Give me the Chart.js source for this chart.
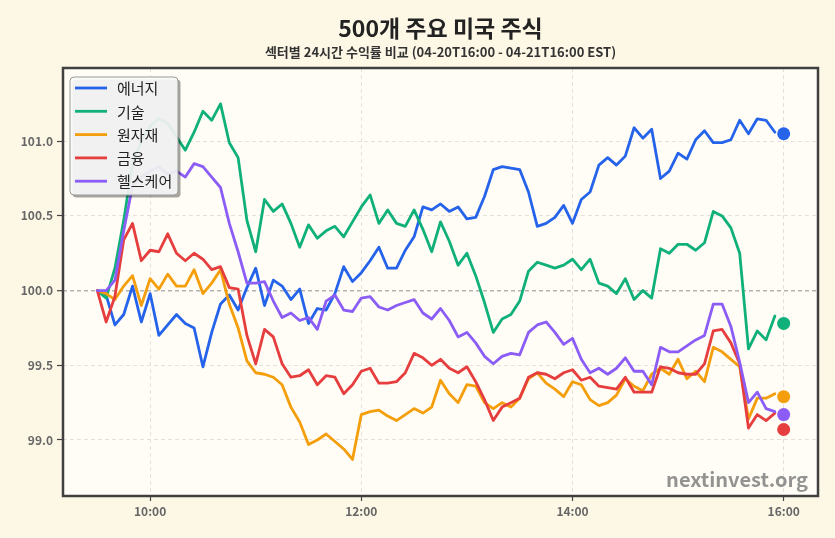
<!DOCTYPE html>
<html>
<head>
<meta charset="utf-8">
<script src="https://cdn.jsdelivr.net/npm/chart.js@4.4.1/dist/chart.umd.min.js"></script>
<style>
html,body{margin:0;padding:0;background:#fdf8e6;}
#wrap{width:835px;height:538px;position:relative;}
canvas{display:block;}
</style>
</head>
<body>
<div id="wrap"><canvas id="c" width="835" height="538"></canvas></div>
<script>
// ---------- data ----------
const chartTitle = "500개 주요 미국 주식";
const chartSubtitle = "섹터별 24시간 수익률 비교 (04-20T16:00 - 04-21T16:00 EST)";
const watermarkText = "nextinvest.org";

const times = [
  "09:30","09:35","09:40","09:45","09:50","09:55",
  "10:00","10:05","10:10","10:15","10:20","10:25","10:30","10:35","10:40","10:45","10:50","10:55",
  "11:00","11:05","11:10","11:15","11:20","11:25","11:30","11:35","11:40","11:45","11:50","11:55",
  "12:00","12:05","12:10","12:15","12:20","12:25","12:30","12:35","12:40","12:45","12:50","12:55",
  "13:00","13:05","13:10","13:15","13:20","13:25","13:30","13:35","13:40","13:45","13:50","13:55",
  "14:00","14:05","14:10","14:15","14:20","14:25","14:30","14:35","14:40","14:45","14:50","14:55",
  "15:00","15:05","15:10","15:15","15:20","15:25","15:30","15:35","15:40","15:45","15:50","15:55"
];
const finalTime = "16:00";

const seriesNames = ["에너지", "기술", "원자재", "금융", "헬스케어"];

const energy = [
  100.00, 99.97, 99.77, 99.84,100.03, 99.79,
   99.98, 99.70, 99.77, 99.84, 99.78, 99.75, 99.49, 99.72, 99.91, 99.97, 99.87,100.02,
  100.15, 99.90,100.07,100.03, 99.94,100.01, 99.78, 99.88, 99.87, 99.98,100.16,100.06,
  100.12,100.20,100.29,100.15,100.15,100.27,100.36,100.56,100.54,100.58,100.53,100.56,
  100.48,100.49,100.63,100.81,100.83,100.82,100.81,100.66,100.43,100.45,100.49,100.57,
  100.45,100.61,100.66,100.84,100.89,100.84,100.90,101.09,101.02,101.08,100.75,100.80,
  100.92,100.88,101.01,101.07,100.99,100.99,101.01,101.14,101.05,101.15,101.14,101.06
];
const tech = [
  100.00, 99.95,100.15,100.47,100.85,101.00,
  101.10,101.15,101.12,101.03,100.94,101.06,101.20,101.14,101.25,100.99,100.89,100.47,
  100.26,100.61,100.53,100.58,100.45,100.29,100.44,100.35,100.40,100.43,100.36,100.46,
  100.56,100.64,100.45,100.54,100.45,100.43,100.54,100.41,100.26,100.46,100.33,100.17,
  100.25,100.10, 99.92, 99.72, 99.81, 99.84, 99.93,100.13,100.19,100.17,100.15,100.17,
  100.21,100.14,100.21,100.05,100.03, 99.98,100.08, 99.94,100.00, 99.95,100.28,100.25,
  100.31,100.31,100.27,100.32,100.53,100.50,100.42,100.25, 99.61, 99.73, 99.67, 99.83
];
const materials = [
  100.00, 99.98, 99.94,100.03,100.10, 99.90,
  100.08,100.01,100.11,100.03,100.03,100.14, 99.98,100.05,100.14, 99.91, 99.75, 99.53,
   99.45, 99.44, 99.42, 99.37, 99.22, 99.12, 98.97, 99.00, 99.04, 98.99, 98.94, 98.87,
   99.17, 99.19, 99.20, 99.16, 99.13, 99.17, 99.21, 99.18, 99.22, 99.40, 99.31, 99.25,
   99.37, 99.36, 99.25, 99.21, 99.25, 99.22, 99.28, 99.41, 99.45, 99.38, 99.34, 99.29,
   99.39, 99.37, 99.27, 99.23, 99.25, 99.30, 99.41, 99.36, 99.33, 99.44, 99.48, 99.44,
   99.54, 99.41, 99.46, 99.39, 99.62, 99.59, 99.54, 99.49, 99.14, 99.28, 99.28, 99.31
];
const finance = [
  100.00, 99.79, 99.96,100.34,100.45,100.20,
  100.27,100.26,100.38,100.25,100.20,100.25,100.21,100.14,100.16,100.02,100.01, 99.70,
   99.51, 99.74, 99.69, 99.51, 99.42, 99.43, 99.47, 99.37, 99.43, 99.42, 99.31, 99.37,
   99.46, 99.48, 99.38, 99.38, 99.39, 99.45, 99.58, 99.55, 99.50, 99.54, 99.48, 99.45,
   99.49, 99.39, 99.27, 99.13, 99.22, 99.25, 99.28, 99.42, 99.45, 99.44, 99.41, 99.45,
   99.47, 99.40, 99.42, 99.36, 99.35, 99.34, 99.42, 99.32, 99.32, 99.32, 99.49, 99.48,
   99.45, 99.44, 99.44, 99.51, 99.73, 99.74, 99.65, 99.51, 99.08, 99.17, 99.13, 99.18
];
const health = [
  100.00,100.00,100.07,100.40,100.70,100.76,
  100.80,100.83,100.78,100.80,100.76,100.85,100.83,100.76,100.69,100.45,100.26,100.05,
  100.05,100.06, 99.93, 99.82, 99.85, 99.80, 99.82, 99.74, 99.93, 99.97, 99.87, 99.86,
   99.95, 99.96, 99.89, 99.87, 99.90, 99.92, 99.94, 99.85, 99.81, 99.88, 99.80, 99.69,
   99.72, 99.65, 99.56, 99.51, 99.56, 99.58, 99.57, 99.72, 99.77, 99.79, 99.72, 99.64,
   99.68, 99.54, 99.45, 99.48, 99.44, 99.48, 99.55, 99.46, 99.46, 99.37, 99.62, 99.59,
   99.59, 99.63, 99.67, 99.70, 99.91, 99.91, 99.76, 99.52, 99.25, 99.32, 99.21, 99.19
];
// closing value at 16:00 (end markers)
const finalValues = [101.05, 99.78, 99.29, 99.07, 99.17];

const yTickValues = [99.0, 99.5, 100.0, 100.5, 101.0];
const xTickLabels = ["10:00", "12:00", "14:00", "16:00"];

// ---------- styling ----------
const colors = ["#2563eb", "#10b07a", "#f59e0b", "#e63e3e", "#8b5cf6"];
const FONT = "'Noto Sans CJK KR', 'Noto Sans', sans-serif";
const allSeries = [energy, tech, materials, finance, health];

function toHours(t) { const p = t.split(":").map(Number); return p[0] + p[1] / 60; }

const datasets = allSeries.map((vals, k) => ({
  type: "line",
  label: seriesNames[k],
  data: times.map((t, i) => ({ x: toHours(t), y: vals[i] })),
  borderColor: colors[k],
  backgroundColor: colors[k],
  borderWidth: 2.8,
  pointRadius: 0,
  tension: 0,
  borderJoinStyle: "round",
  borderCapStyle: "round",
  order: 5 - k
}));
datasets.push({
  type: "scatter",
  label: "end",
  data: finalValues.map(v => ({ x: toHours(finalTime), y: v })),
  backgroundColor: colors,
  borderWidth: 0,
  pointRadius: 6.5,
  order: 0
});

const decor = {
  id: "decor",
  beforeDraw(chart) {
    const c = chart.ctx, a = chart.chartArea;
    c.save();
    c.fillStyle = "#fdf8e6";
    c.fillRect(0, 0, chart.width, chart.height);
    c.fillStyle = "#fffdf5";
    c.fillRect(a.left, a.top, a.right - a.left, a.bottom - a.top);
    c.restore();
  },
  afterDraw(chart) {
    const c = chart.ctx, a = chart.chartArea;
    c.save();
    // title
    const cx = (a.left + a.right) / 2;
    c.textAlign = "center";
    c.textBaseline = "middle";
    c.fillStyle = "#222";
    c.font = "bold 23px " + FONT;
    c.fillText(chartTitle, cx, 28);
    c.fillStyle = "#333";
    c.font = "bold 13px " + FONT;
    c.fillText(chartSubtitle, cx, 52);

    // watermark
    c.textAlign = "right";
    c.textBaseline = "alphabetic";
    c.fillStyle = "rgba(120,120,120,0.8)";
    c.font = "bold 20px " + FONT;
    c.fillText(watermarkText, a.right - 10, a.bottom - 9);

    // legend
    const lx = a.left + 7, ly = a.top + 9, lw = 108, lh = 118, r = 4;
    function rr(x, y, w, h) {
      c.beginPath();
      c.moveTo(x + r, y); c.lineTo(x + w - r, y); c.quadraticCurveTo(x + w, y, x + w, y + r);
      c.lineTo(x + w, y + h - r); c.quadraticCurveTo(x + w, y + h, x + w - r, y + h);
      c.lineTo(x + r, y + h); c.quadraticCurveTo(x, y + h, x, y + h - r);
      c.lineTo(x, y + r); c.quadraticCurveTo(x, y, x + r, y); c.closePath();
    }
    rr(lx + 2.5, ly + 2.5, lw, lh);
    c.fillStyle = "rgba(0,0,0,0.35)";
    c.fill();
    rr(lx, ly, lw, lh);
    c.fillStyle = "rgba(250,250,250,0.9)";
    c.fill();
    c.strokeStyle = "#9a9a9a";
    c.lineWidth = 1;
    c.stroke();
    c.textAlign = "left";
    c.textBaseline = "middle";
    c.font = "15px " + FONT;
    seriesNames.forEach((name, k) => {
      const yy = ly + 11 + k * 23.3;
      c.strokeStyle = colors[k];
      c.lineWidth = 2.8;
      c.lineCap = "butt";
      c.beginPath(); c.moveTo(lx + 5, yy); c.lineTo(lx + 37, yy); c.stroke();
      c.fillStyle = "#222";
      c.fillText(name, lx + 47, yy + 0.5);
    });

    // frame
    c.strokeStyle = "#404040";
    c.lineWidth = 2.5;
    c.strokeRect(a.left, a.top, a.right - a.left, a.bottom - a.top);
    c.restore();
  }
};

new Chart(document.getElementById("c"), {
  data: { datasets },
  options: {
    responsive: false,
    animation: false,
    devicePixelRatio: 1,
    layout: { padding: { top: 68, right: 17, bottom: 0, left: 0 } },
    plugins: { legend: { display: false }, tooltip: { enabled: false }, title: { display: false } },
    scales: {
      x: {
        type: "linear",
        min: 9.175,
        max: 16.325,
        afterBuildTicks: s => { s.ticks = xTickLabels.map(t => ({ value: toHours(t) })); },
        afterFit: s => { s.height = 42; },
        ticks: {
          callback: v => { const h = Math.floor(v), m = Math.round((v - h) * 60); return h + ":" + String(m).padStart(2, "0"); },
          color: "#666",
          font: { family: FONT, size: 12, weight: "bold" },
          padding: 3,
          maxRotation: 0
        },
        grid: { color: "#e3e1da", lineWidth: 1, drawTicks: true, tickLength: 5, tickColor: "#444", tickWidth: 1.2, tickBorderDash: [] },
        border: { display: false, dash: [4, 3] }
      },
      y: {
        type: "linear",
        min: 98.625,
        max: 101.49,
        afterBuildTicks: s => { s.ticks = yTickValues.map(v => ({ value: v })); },
        afterFit: s => { s.width = 63; },
        ticks: {
          callback: v => Number(v).toFixed(1),
          color: "#666",
          font: { family: FONT, size: 12, weight: "bold" },
          padding: 4
        },
        grid: {
          color: ctx => (ctx.tick && ctx.tick.value === 100 ? "#b3b3b3" : "#e3e1da"),
          lineWidth: ctx => (ctx.tick && ctx.tick.value === 100 ? 1.4 : 1),
          drawTicks: true, tickLength: 6, tickColor: "#444", tickWidth: 1.2, tickBorderDash: []
        },
        border: { display: false, dash: [4, 3] }
      }
    }
  },
  plugins: [decor]
});
</script>
</body>
</html>
